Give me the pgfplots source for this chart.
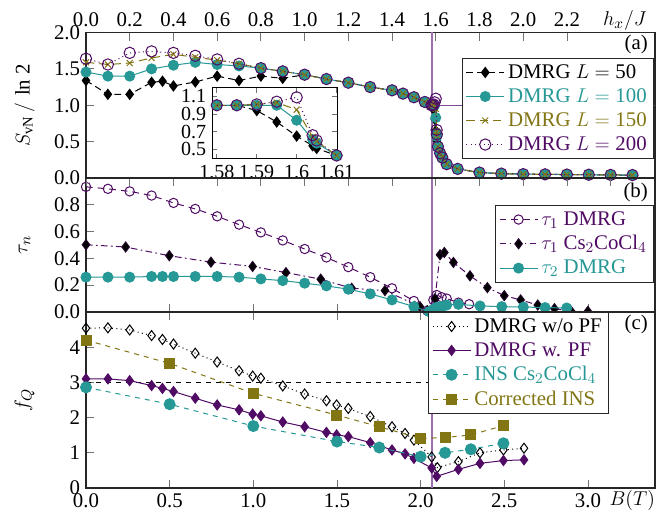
\documentclass[border=0pt]{standalone}
\usepackage{pgfplots}
\pgfplotsset{compat=1.18}
\usepackage{fontspec}
\setmainfont{Liberation Serif}

\definecolor{cteal}{RGB}{38,152,150}
\definecolor{colive}{RGB}{130,118,20}
\definecolor{cpurp}{RGB}{80,12,100}
\definecolor{cvline}{RGB}{155,112,172}

\pgfplotsset{
  panel/.style={
    scale only axis, width=341.4pt, anchor=south west,
    clip mode=individual,
    /pgf/number format/assume math mode=true,
    font=\fontsize{12.5}{15}\selectfont,
    tick style={black!55, line width=0.5pt},
    major tick length=5pt,
    axis line style={black!85, line width=0.8pt},
    ytick pos=left,
    legend cell align=left,
    legend image code/.code={\draw[mark repeat=2,mark phase=2,##1] plot coordinates {(0cm,0cm) (0.4cm,0cm) (0.8cm,0cm)};},
    legend style={draw=black!85, fill=white, line width=0.6pt, inner xsep=2pt, inner ysep=1.5pt, row sep=0.6pt,
      font=\fontsize{12.5}{15}\selectfont},
    every axis plot/.append style={line width=0.6pt},
    ylabel style={at={(axis description cs:-0.108,0.5)}, anchor=center},
  },
  onedec/.style={/pgf/number format/.cd, fixed, fixed zerofill, precision=1},
}

\begin{document}
\begin{tikzpicture}

% ---------- (a) entanglement entropy vs h_x/J
\begin{axis}[panel, at={(0,186pt)}, height=87.3pt,
  xmin=0, xmax=2.603, ymin=0, ymax=2,
  xtick={0,0.2,0.4,0.6,0.8,1.0,1.2,1.4,1.6,1.8,2.0,2.2},
  xtick pos=right, xticklabel pos=right,
  ytick={0,0.5,1,1.5,2},
  x tick label style={onedec}, y tick label style={onedec},
  ylabel={$S_{\mathrm{vN}}\,/\,\ln$ 2},
  legend style={at={(rel axis cs:0.998,0.825)}, anchor=north east},
]
\addplot[cvline, line width=0.8pt, forget plot] coordinates {(1.583,0) (1.583,2)};
\addplot[cvline!60!cpurp, line width=0.8pt, forget plot] coordinates {(1.583,1) (2.603,1)};
\addplot[black, dash pattern=on 4pt off 2.5pt, mark=diamond*, mark size=3pt, mark options={solid}] coordinates {
  (0,1.34) (0.1,1.15) (0.2,1.15) (0.3,1.315) (0.35,1.33) (0.4,1.265) (0.5,1.32) (0.6,1.40)
  (0.7,1.34) (0.8,1.40) (0.9,1.37) (1.0,1.42) (1.1,1.36) (1.2,1.31) (1.3,1.25) (1.4,1.205)
  (1.45,1.16) (1.5,1.11) (1.55,1.045)
  (1.58,1.0) (1.585,1.0) (1.59,0.94) (1.595,0.81) (1.6,0.65) (1.604,0.54) (1.605,0.51) (1.61,0.43)
  (1.62,0.34) (1.63,0.28) (1.65,0.19) (1.7,0.125) (1.8,0.075) (1.9,0.06) (2.0,0.053) (2.1,0.05)
  (2.2,0.047) (2.3,0.045) (2.4,0.042) (2.5,0.04)
};
\addlegendentry{DMRG $L = {}$50}
\addplot[cteal, mark=*, mark size=3pt] coordinates {
  (0,1.456) (0.1,1.40) (0.2,1.40) (0.3,1.50) (0.4,1.55) (0.5,1.59) (0.6,1.56) (0.7,1.54)
  (0.8,1.51) (0.9,1.466) (1.0,1.42) (1.1,1.36) (1.2,1.31) (1.3,1.25) (1.4,1.205)
  (1.45,1.16) (1.5,1.11) (1.55,1.045)
  (1.58,1.0) (1.585,1.0) (1.59,1.0) (1.595,1.0) (1.6,0.83) (1.604,0.61) (1.605,0.57) (1.61,0.43)
  (1.62,0.34) (1.63,0.28) (1.65,0.19) (1.7,0.125) (1.8,0.075) (1.9,0.06) (2.0,0.053) (2.1,0.05)
  (2.2,0.047) (2.3,0.045) (2.4,0.042) (2.5,0.04)
};
\addlegendentry{\textcolor{cteal}{DMRG $L = {}$100}}
\addplot[colive, dash pattern=on 5pt off 3pt, mark=x, mark size=2.5pt, mark options={solid}] coordinates {
  (0,1.59) (0.1,1.56) (0.2,1.58) (0.3,1.65) (0.4,1.70) (0.5,1.66) (0.6,1.62) (0.7,1.57)
  (0.8,1.51) (0.9,1.466) (1.0,1.42) (1.1,1.36) (1.2,1.31) (1.3,1.25) (1.4,1.205)
  (1.45,1.16) (1.5,1.11) (1.55,1.045)
  (1.58,1.0) (1.585,1.0) (1.59,1.01) (1.595,1.03) (1.6,0.95) (1.604,0.64) (1.605,0.59) (1.61,0.43)
  (1.62,0.34) (1.63,0.28) (1.65,0.19) (1.7,0.125) (1.8,0.075) (1.9,0.06) (2.0,0.053) (2.1,0.05)
  (2.2,0.047) (2.3,0.045) (2.4,0.042) (2.5,0.04)
};
\addlegendentry{\textcolor{colive}{DMRG $L = {}$150}}
\addplot[cpurp, dotted, mark=o, mark size=3.4pt, mark options={solid}] coordinates {
  (0,1.64) (0.1,1.56) (0.2,1.72) (0.3,1.74) (0.4,1.72) (0.5,1.68) (0.6,1.63) (0.7,1.57)
  (0.8,1.51) (0.9,1.466) (1.0,1.42) (1.1,1.36) (1.2,1.31) (1.3,1.25) (1.4,1.205)
  (1.45,1.16) (1.5,1.11) (1.55,1.045)
  (1.58,1.0) (1.585,1.0) (1.59,1.01) (1.595,1.04) (1.6,1.09) (1.604,0.66) (1.605,0.60) (1.61,0.43)
  (1.62,0.34) (1.63,0.28) (1.65,0.19) (1.7,0.125) (1.8,0.075) (1.9,0.06) (2.0,0.053) (2.1,0.05)
  (2.2,0.047) (2.3,0.045) (2.4,0.042) (2.5,0.04)
};
\addlegendentry{\textcolor{cpurp}{DMRG $L = {}$200}}
\node[anchor=base east, inner sep=0pt] at (rel axis cs:0.988,0.880) {(a)};
\node[anchor=base, inner sep=0pt] at (rel axis cs:0.947,1.045) {$h_x/J$};
\end{axis}

% inset of (a)
\begin{axis}[panel, at={(75.6pt,197.4pt)}, width=75pt, height=42.6pt,
  xmin=1.5788, xmax=1.6101, ymin=0.39, ymax=1.196,
  xtick={1.58,1.59,1.6,1.61}, xticklabels={1.58,1.59,1.6,1.61},
  ytick={0.5,0.7,0.9,1.1}, yticklabels={0.5,0.7,0.9,1.1},
  xtick pos=both, ytick pos=both, major tick length=3pt,
  tick label style={font=\fontsize{12}{12}\selectfont},
  axis line style={black, line width=0.6pt},
  axis background/.style={fill=white},
]
\addplot[black, dash pattern=on 4pt off 2.5pt, mark=diamond*, mark size=3pt, mark options={solid}] coordinates {
  (1.58,1.0) (1.585,1.0) (1.59,0.94) (1.595,0.81) (1.6,0.65) (1.604,0.54) (1.605,0.51) (1.61,0.43)};
\addplot[cteal, mark=*, mark size=3pt] coordinates {
  (1.58,1.0) (1.585,1.0) (1.59,1.0) (1.595,1.0) (1.6,0.83) (1.604,0.61) (1.605,0.57) (1.61,0.43)};
\addplot[colive, dash pattern=on 5pt off 3pt, mark=x, mark size=2.5pt, mark options={solid}] coordinates {
  (1.58,1.0) (1.585,1.0) (1.59,1.01) (1.595,1.03) (1.6,0.95) (1.604,0.64) (1.605,0.59) (1.61,0.43)};
\addplot[cpurp, dotted, mark=o, mark size=3.4pt, mark options={solid}] coordinates {
  (1.58,1.0) (1.585,1.0) (1.59,1.01) (1.595,1.04) (1.6,1.09) (1.604,0.66) (1.605,0.60) (1.61,0.43)};
\end{axis}

% ---------- (b) tau_n
\begin{axis}[panel, at={(0,105.6pt)}, height=80.4pt,
  xmin=0, xmax=3.401, ymin=0, ymax=1,
  xtick={0,0.5,1,1.5,2,2.5,3}, xtick pos=left, xticklabels={},
  ytick={0,0.2,0.4,0.6,0.8}, y tick label style={onedec},
  ylabel={$\tau_n$},
  legend style={at={(rel axis cs:0.998,0.798)}, anchor=north east},
]
\addplot[cvline, line width=0.8pt, forget plot] coordinates {(2.068,0) (2.068,1)};
\addplot[cpurp, dash pattern=on 4pt off 3pt, mark=o, mark size=2.8pt, mark options={solid, fill=white}] coordinates {
  (0,0.934) (0.131,0.919) (0.261,0.90) (0.392,0.869) (0.523,0.814) (0.653,0.769) (0.784,0.714)
  (0.915,0.652) (1.045,0.594) (1.176,0.534) (1.307,0.47) (1.437,0.407) (1.568,0.335) (1.699,0.26)
  (1.829,0.177) (1.960,0.082) (2.04,0.01) (2.076,0.09) (2.096,0.127) (2.126,0.11) (2.156,0.10)
  (2.226,0.07) (2.29,0.058)
};
\addlegendentry{\textcolor{cpurp}{$\tau_1$ DMRG}}
\addplot[cpurp, dash pattern=on 4pt off 2pt on 1pt off 2pt, mark=diamond*, mark size=3pt,
  mark options={solid, fill=black, draw=black!60!cpurp}] coordinates {
  (0,0.502) (0.237,0.485) (0.498,0.42) (0.747,0.372) (0.996,0.34) (1.195,0.294) (1.403,0.245)
  (1.588,0.177) (1.787,0.16) (1.996,0.04) (2.04,0.01) (2.086,0.10) (2.116,0.427) (2.142,0.444)
  (2.196,0.37) (2.295,0.27) (2.399,0.182) (2.50,0.122) (2.598,0.09) (2.70,0.052) (2.80,0.025)
  (2.90,0.005) (3.0,0.005)
};
\addlegendentry{\textcolor{cpurp}{$\tau_1$ Cs$_2$CoCl$_4$}}
\addplot[cteal, mark=*, mark size=3pt] coordinates {
  (0,0.26) (0.131,0.26) (0.261,0.26) (0.392,0.265) (0.457,0.265) (0.523,0.265) (0.653,0.265)
  (0.784,0.265) (0.915,0.26) (1.045,0.247) (1.176,0.234) (1.307,0.215) (1.437,0.195) (1.568,0.17)
  (1.699,0.135) (1.829,0.09) (1.960,0.04) (2.05,0.003) (2.076,0.02) (2.096,0.035) (2.116,0.04)
  (2.136,0.045) (2.156,0.052) (2.226,0.057) (2.355,0.045) (2.485,0.04) (2.614,0.037) (2.744,0.033)
  (2.873,0.03)
};
\addlegendentry{\textcolor{cteal}{$\tau_2$ DMRG}}
\node[anchor=base east, inner sep=0pt] at (rel axis cs:0.988,0.858) {(b)};
\end{axis}

% h_x/J ticks on the top of (b)
\begin{axis}[panel, at={(0,105.6pt)}, height=80.4pt,
  xmin=0, xmax=2.603, ymin=0, ymax=1,
  hide y axis, axis x line*=top, x axis line style={-},
  xtick={0,0.2,0.4,0.6,0.8,1.0,1.2,1.4,1.6,1.8,2.0,2.2,2.4}, xticklabels={},
  tick align=inside,
]
\end{axis}

% ---------- (c) f_Q vs B
\begin{axis}[panel, at={(0,0)}, height=105.6pt,
  xmin=0, xmax=3.401, ymin=0, ymax=5,
  xtick={0,0.5,1,1.5,2,2.5,3}, xtick pos=both, x tick label style={onedec},
  ytick={0,1,2,3,4},
  ylabel={$f_Q$},
  legend style={at={(rel axis cs:0.919,1)}, anchor=north east},
]
\addplot[cvline, line width=0.8pt, forget plot] coordinates {(2.068,0) (2.068,5)};
\addplot[black, dashed, forget plot] coordinates {(0,3) (2.068,3)};
\addplot[black, dotted, mark=diamond, mark size=3pt, mark options={solid, fill=white}] coordinates {
  (0,4.54) (0.131,4.55) (0.261,4.49) (0.392,4.33) (0.457,4.22) (0.523,4.09) (0.653,3.83)
  (0.784,3.58) (0.915,3.33) (0.996,3.18) (1.045,3.12) (1.176,2.90) (1.307,2.67) (1.437,2.48)
  (1.498,2.36) (1.568,2.26) (1.699,2.03) (1.829,1.74) (1.907,1.55) (1.96,1.36) (2.066,0.88)
  (2.10,0.58) (2.226,0.75) (2.355,1.0) (2.495,1.08) (2.618,1.13)
};
\addlegendentry{DMRG w/o PF}
\addplot[cpurp, mark=diamond*, mark size=3pt] coordinates {
  (0,3.10) (0.131,3.10) (0.261,3.05) (0.392,2.91) (0.457,2.83) (0.523,2.74) (0.653,2.55)
  (0.784,2.36) (0.915,2.22) (0.996,2.10) (1.045,2.05) (1.176,1.875) (1.307,1.74) (1.437,1.58)
  (1.498,1.51) (1.568,1.46) (1.699,1.29) (1.829,1.08) (1.907,0.97) (1.96,0.84) (2.066,0.57)
  (2.096,0.33) (2.226,0.53) (2.355,0.70) (2.495,0.78) (2.618,0.80)
};
\addlegendentry{\textcolor{cpurp}{DMRG w. PF}}
\addplot[cteal, dashed, mark=*, mark size=3.3pt, mark options={solid}] coordinates {
  (0,2.86) (0.5,2.38) (1.0,1.76) (1.5,1.32) (1.753,1.15) (2.0,0.89) (2.146,1.0) (2.30,1.10) (2.495,1.27)
};
\addlegendentry{\textcolor{cteal}{INS Cs$_2$CoCl$_4$}}
\addplot[colive, dashed, mark=square*, mark size=3pt, mark options={solid}] coordinates {
  (0,4.20) (0.5,3.54) (1.0,2.69) (1.5,2.07) (1.753,1.74) (2.0,1.41) (2.146,1.43) (2.30,1.51) (2.495,1.77)
};
\addlegendentry{\textcolor{colive}{Corrected INS}}
\node[anchor=base east, inner sep=0pt] at (rel axis cs:0.988,0.898) {(c)};
\node[anchor=base, inner sep=0pt] at (rel axis cs:0.96,-0.097) {$B(T)$};
\end{axis}

\pgfresetboundingbox
\path[use as bounding box] (-51.6pt,-14.4pt) rectangle (348.6pt,292.8pt);
\end{tikzpicture}
\end{document}
